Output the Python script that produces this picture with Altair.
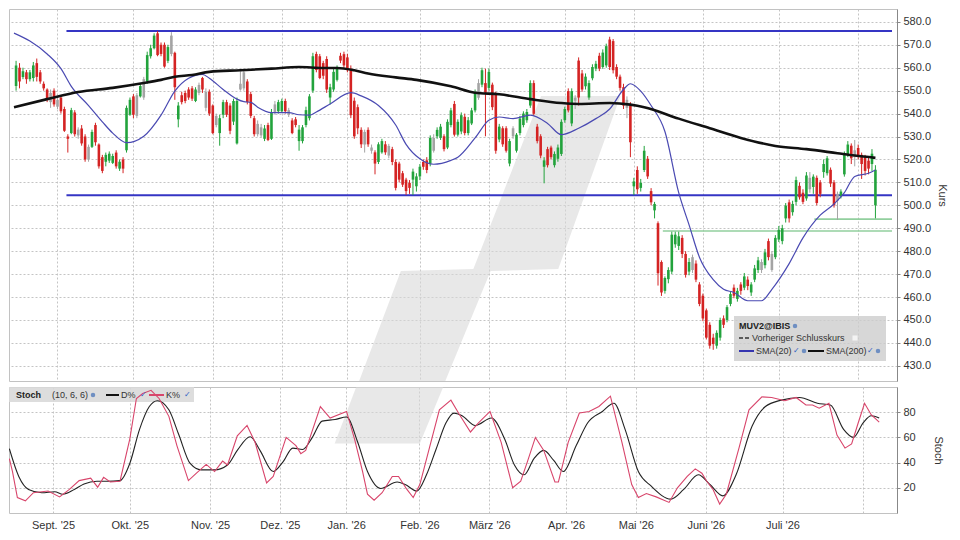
import json
import altair as alt
import pandas as pd

FONT = "Liberation Sans"

# ---------------- candle data (trading day index 0..249) ----------------
O = [552, 560, 556, 558, 555, 555.5, 562, 558, 553, 550.5,
     545, 550, 543, 547, 542, 530, 531.5, 540.5, 530.5, 533.5,
     530, 520, 525.5, 535, 526.5, 521, 519, 519.5, 518.5, 523,
     516, 520, 524, 539.5, 547.5, 539, 547.5, 547, 554, 565,
     568.5, 575, 570, 570, 563, 566, 566.5, 537.5, 548, 549,
     550.5, 551, 545.5, 549, 555.5, 549.5, 549.5, 543.5, 535, 531.5,
     539.5, 545, 543.5, 536.5, 527, 550.5, 551, 554, 548.5, 538,
     535.5, 530.5, 529, 535, 529, 540.5, 541, 541, 545.5, 539.5,
     537, 537.5, 528, 528, 535, 538, 550, 566, 565, 562,
     563.8, 547, 550.5, 554.7, 565.2, 565.9, 564.5, 559.6, 545.6, 542.8,
     532.9, 526.5, 532.9, 523.8, 523.1, 518.9, 523.1, 526.6, 521.7, 524.5,
     518.9, 518.2, 514, 511.2, 509.8, 511.2, 508.3, 512.6, 518.9, 519.6,
     518.2, 523.8, 530.1, 529.4, 530.1, 525.2, 535, 544.2, 530.8, 532.2,
     538.6, 531.5, 535.7, 541.4, 546.9, 552.6, 553.3, 551.2, 552.6, 548.4,
     528.7, 533.6, 533.6, 518.2, 530.1, 523.8, 531.5, 535, 537.1, 543.5,
     553.3, 534.3, 530.1, 516.8, 524.5, 525.2, 517.5, 520.3, 522.4, 537.1,
     549.8, 535.7, 545.6, 563.1, 557.5, 551.9, 547, 555.4, 559.6, 565.2,
     560.3, 561, 572.3, 571.6, 560.3, 556.1, 551.5, 542.5, 543.5, 508.3,
     515.4, 507.6, 515.4, 520.3, 506.2, 497.8, 492.2, 475.3, 462.7, 467.8,
     471.1, 483, 482.3, 485.8, 478.8, 471.1, 471.8, 474.6, 465.5, 460.6,
     454.2, 447.9, 442.3, 438.8, 442.3, 450.7, 450, 457, 464.1, 459.2,
     465.5, 464.1, 467.6, 462, 467.6, 471.8, 475.3, 473.9, 484.4, 471.8,
     477.4, 485.1, 484.4, 494.3, 501.3, 497, 501.5, 508.5, 505.5, 503,
     507, 508, 512, 510, 514.5, 514, 515.5, 510, 502, 504,
     513.5, 522, 526, 521, 525, 522, 521, 519.5, 518, 500]
H = [563, 562, 560, 559, 559, 562.5, 564, 559, 554, 551,
     550.5, 551, 547, 548, 543, 531, 542.5, 541.5, 534, 535,
     531, 526.5, 533, 536, 527, 522, 523, 523.5, 522.5, 524,
     520, 521, 543.5, 547, 548.5, 549, 553, 556, 567, 570,
     575, 576, 571, 571, 570, 575.5, 567, 545, 549.5, 550,
     551.5, 552, 551.5, 553.5, 556, 551, 550.5, 544, 540, 539.5,
     546, 546, 544.5, 546.5, 547, 558.5, 559.5, 555, 549.5, 539,
     537, 535.5, 535, 536, 542, 545.5, 546, 546.5, 546.5, 542.5,
     538, 538.5, 535, 535, 543, 548.5, 566.5, 567, 566, 563,
     565, 553, 559.5, 561, 566.5, 567, 566, 561, 547, 544,
     534, 533, 534, 526.5, 524, 527.5, 529, 528, 526.8, 525.5,
     520, 519, 515, 512, 511, 516, 514, 518, 520, 521,
     530.5, 531, 534, 535.5, 531, 537.5, 542.5, 545.5, 537.5, 540.5,
     540, 538.5, 542.5, 550.5, 555, 560, 559.6, 559.6, 553.5, 549.5,
     535.5, 534.5, 534.5, 529, 534.5, 531.5, 539, 541, 542, 554.5,
     554.5, 535.5, 531, 521, 525.5, 526, 523.5, 526.5, 537.5, 543,
     551, 551, 548, 564.5, 559, 557.5, 554.5, 561.5, 563, 566.5,
     568, 570.5, 573.5, 572.5, 561.5, 557, 553, 547.5, 545, 512,
     517, 511.5, 525.9, 521.5, 507.5, 501.5, 493, 476, 469, 473,
     488.5, 488.5, 488.5, 487, 480, 477, 478.5, 476, 466.5, 461.5,
     455, 449, 444, 445.5, 451, 452, 456.5, 462.5, 465.5, 464,
     466.5, 470.5, 469, 466.5, 474, 477.5, 476.5, 481, 485.5, 480,
     487, 491, 491.5, 501, 502.5, 502, 512.5, 510, 507, 514.5,
     514.5, 513.5, 513, 511, 520, 521.5, 516.5, 511, 506, 507,
     523.5, 528, 527, 528.5, 526.5, 523, 522, 521, 524.5, 517.5]
L = [550, 551, 555, 553, 554, 554, 554, 553, 550, 545,
     542.5, 543, 542, 540, 532, 523, 531, 530, 529, 526,
     519, 519, 525, 526, 516, 514, 517, 518.5, 518, 516,
     515, 514, 523, 539, 538, 538, 547, 546, 553, 564,
     568, 565, 565, 560, 562, 565, 546, 534, 544, 544.5,
     546, 545.5, 545, 548, 549, 541, 539, 531, 534, 526,
     538, 538.5, 531, 535, 526.5, 550, 550, 544, 538, 530,
     530, 529.5, 528, 528, 528.5, 539.5, 540, 540.5, 540, 538.5,
     531, 534, 523.8, 527, 534, 537, 549, 558, 555, 555,
     549, 544, 549.5, 554, 562, 560, 558, 538, 529, 531,
     525, 523, 525.5, 522.5, 513.5, 518, 522.5, 522, 520.5, 517.5,
     506.5, 510, 508, 504.5, 505, 504.5, 506, 511, 515.5, 514,
     517, 523, 529, 528.5, 523.5, 524.5, 534, 530, 530, 531,
     530.5, 530.5, 535, 540.5, 546, 551.5, 530.1, 550, 541.5, 522.5,
     527.5, 525.5, 523, 517, 529, 523, 530.5, 534, 536, 542.5,
     539, 527, 520.5, 509.6, 516.5, 520, 516.5, 519, 521.5, 536,
     540.5, 534.5, 542, 543.5, 549.5, 550.5, 546, 554.5, 558.5, 558.5,
     559.5, 560, 559, 557.5, 555, 550, 542, 538, 521, 504.5,
     505, 506, 514.5, 511.5, 500, 494.3, 465, 460.5, 461.5, 466,
     470, 481.5, 480.5, 477, 468.5, 469.5, 470.5, 466.5, 456, 449.5,
     441.5, 437.5, 437, 437.5, 441, 446.5, 449, 456, 459.5, 458,
     461, 463, 463, 460.5, 466.5, 470.5, 470.5, 472.5, 476, 471,
     476.5, 484, 483, 492.5, 492.5, 495.5, 500, 502.5, 500.5, 502,
     505.5, 505, 500, 503.5, 512, 513, 508, 499, 493.6, 503,
     512.5, 521, 518, 517, 520, 511.5, 513, 513.5, 515, 494.3]
C = [561, 554, 558.5, 555, 558, 561, 556, 554, 551, 546,
     549, 544, 546, 541, 532.5, 529, 541.5, 531, 533, 527,
     520, 525.5, 532, 527.5, 517, 515, 522, 522.5, 521.5, 517,
     519, 516, 542.5, 546, 539.5, 548, 552, 555, 565.5, 568.5,
     574, 565.5, 566, 560.5, 569, 574, 551.5, 543.5, 545, 545.5,
     547, 546.5, 550.5, 552.5, 550.5, 542.5, 540, 531.5, 539, 538,
     545, 539.5, 532.5, 545.5, 545.5, 553, 558, 545, 539, 531,
     531, 534, 533.5, 528.5, 540.5, 544, 545, 545.5, 541, 541.5,
     531.5, 535, 533, 534, 541.5, 547.5, 565, 559, 555.5, 556.5,
     550.5, 551.5, 558.2, 559.6, 563.1, 561, 558.9, 539.3, 530.1, 533.6,
     526.6, 532, 526.6, 525.2, 518.2, 526.6, 528, 523.1, 525.9, 518.9,
     507.6, 511.2, 509, 506.2, 507.6, 514.7, 512.6, 516.8, 516.8, 515.4,
     529.4, 529.4, 532.9, 534.3, 524.5, 536.4, 541.4, 530.8, 536.4, 539.3,
     531.5, 537.1, 541.4, 549.1, 553.3, 558.9, 549.1, 558.2, 542.8, 523.8,
     534.3, 526.6, 523.8, 528, 533.6, 530.8, 537.8, 540, 540.7, 553.3,
     539.9, 528, 521.7, 519.6, 517.5, 521, 522.4, 525.2, 536.4, 542,
     541.4, 549.8, 546.9, 547, 550.5, 556.1, 553.3, 560.3, 561.7, 559.6,
     566.6, 569.4, 560.3, 558.9, 556.1, 551.2, 543.5, 546, 527.5, 510.4,
     507, 509.8, 523.8, 512.6, 501.3, 500.6, 470.4, 462, 468.3, 471.8,
     487.2, 487.2, 486.5, 478.8, 469.7, 475.3, 477.4, 467.6, 457, 450.7,
     442.3, 438.8, 439.5, 444.4, 450, 447.9, 455.6, 461.3, 460.6, 462.7,
     462.7, 469, 464.8, 465.5, 472.5, 476, 471.8, 479.5, 477.4, 478.8,
     485.8, 489.3, 490, 499.9, 494.3, 500.6, 511, 503.5, 501.5, 513,
     512, 512.5, 501, 505, 518, 520.5, 509.5, 500, 505, 506,
     522.5, 526.5, 520.5, 524, 521.5, 518, 515, 516, 522.5, 515.5]
COL = list("grgrggrrrr" "nrnrrrgrnr" "rngrrrgggr" "grggrngngg" "grrrgnrgrr"
           "rrgnrnrrng" "grrggnnrrr" "nngrgnggrn" "rrgggggrrr" "rgggrrrrrr"
           "rnrnrggrnr" "rrrrrgggrr" "gnggrggrgg" "rgggngrgrr" "grrgnggggg"
           "rrrgrrgggg" "rgnrrggggr" "ggrrrrrnrg" "rggrrgrrgg" "gggrrgnrrr"
           "rrrggrggrg" "rgrgggngrn" "ggggrggrrg" "ngrrggrrng" "ggrnrrrrgg")

# ---------------- moving averages (read at sample points) ----------------
sma20_i = [-0.6, 4, 9, 13, 16, 21, 25, 28, 32, 37, 42, 46, 50, 54, 56, 60, 64, 66, 68, 70,
           74, 79, 82, 85, 87, 91, 97, 100, 105, 110, 113, 117, 121, 126, 128, 133, 137, 140,
           144, 149, 154, 158, 163, 168, 172, 176, 178, 181, 184, 188, 192, 195, 198, 202,
           205, 208, 212, 216, 219, 224, 228, 233, 237, 240, 243, 247, 249]
sma20_v = [575.1, 571.6, 566, 559.6, 551.9, 543.5, 536.4, 531.5, 527.3, 530.1, 539.3, 549.8,
           555.4, 557.1, 555.4, 550.5, 546.3, 545.2, 544.9, 542.8, 540.4, 540.4, 539.5, 539.3,
           540.7, 544.2, 549.1, 547.7, 543.5, 535, 526.6, 520.3, 517.9, 519.6, 521, 529.4,
           537.1, 538.5, 537.8, 539.3, 535.7, 530.8, 533.6, 537.8, 542, 550.5, 553, 549.8,
           543.5, 532.2, 505.5, 491.5, 477.4, 467.6, 463.4, 462, 458.4, 458.4, 463.4, 474.6,
           485.8, 495.7, 500.6, 505.5, 512.6, 514, 515.4]
sma200_i = [-0.6, 9, 18, 28, 37, 42, 46, 51, 56, 65, 74, 82, 89, 93, 98, 102, 110, 116, 126,
            133, 140, 149, 158, 163, 172, 178, 182, 192, 201, 210, 220, 229, 238, 243, 249]
sma200_v = [542.8, 546.3, 549.4, 551.2, 553.3, 554.7, 556.1, 556.8, 558.2, 558.9, 559.6,
            560.3, 559.9, 559.9, 558.9, 557.5, 555.8, 554.7, 551.9, 549.1, 548.4, 546.3,
            544.6, 544.2, 544.6, 543.9, 542.8, 537.8, 533.6, 529.4, 525.9, 524.5, 522.7,
            521.7, 520.7]

# ---------------- stochastic (10, 6, 6) ----------------
k_i = [-0.5, 0.4, 1.8, 4.1, 6.4, 8.8, 10.6, 13.9, 16.7, 19.5, 22.8, 24.8, 26.5, 28.4, 31.2,
       34, 35.9, 37.7, 40.1, 42.4, 45.2, 47.5, 50.8, 53.1, 55.9, 58.3, 60.6, 62, 64.8, 67.6,
       69.9, 73.2, 75.1, 78.8, 81.6, 83, 84.4, 88.6, 91.4, 96.1, 98.4, 100.7, 102.1, 104,
       106.3, 109.2, 111, 113.4, 115.2, 117.1, 119.9, 122.7, 126, 128.3, 131.6, 133.9, 137.2,
       140.4, 143.7, 146, 147.9, 150.2, 152.6, 155.8, 156.8, 159.6, 162.8, 165.6, 168.4,
       171.7, 175, 177.8, 179.7, 182, 184.8, 188.5, 190.9, 193.7, 196, 197.9, 199.3, 201.1,
       203, 204.9, 208.6, 211.4, 215.1, 217.9, 221.7, 224.9, 227.7, 229.6, 231.5, 234.3,
       236.6, 238.9, 240.8, 242.7, 244.5, 246.4, 248.7]
k_v = [43.2, 32.9, 12.3, 9.7, 16.1, 16.9, 17.4, 12.8, 18.7, 25.7, 27.7, 20.5, 28.3, 24.6,
       25.2, 58.7, 90.9, 94.8, 97.4, 90.9, 76.7, 53.5, 25.7, 31.6, 38.6, 32.9, 41.2, 38.1,
       61.2, 69.5, 56.1, 23.9, 29, 60, 53.5, 47.1, 49.7, 84.5, 75.4, 80.6, 58.7, 32.9, 14.9,
       10.2, 16.1, 29, 29, 18.7, 12.3, 22.6, 52.2, 81.9, 89.6, 78.8, 64.3, 71.6, 80.6, 56.1,
       20, 25.2, 40.6, 60, 49.7, 24.6, 24.6, 56.1, 79.3, 80.6, 84.5, 92.7, 56.1, 22.6, 12.3,
       15.4, 12.8, 8.4, 20, 29, 35, 31.6, 25.2, 18.7, 7.1, 14.9, 52.2, 81.9, 92.2, 91.7,
       89.1, 91.7, 85.7, 85.7, 83.2, 87.1, 61.8, 51.5, 54.8, 71.6, 87.1, 78, 72.1]
d_i = [-0.5, 2.2, 5, 8.8, 12.5, 14.8, 18.1, 20.9, 24.6, 27.5, 31.2, 34, 36.8, 39.6, 41.9,
       45.2, 48, 51.3, 54.5, 58.3, 62, 64.8, 68.5, 71.3, 75.1, 77.9, 80.7, 83.5, 86.3, 89.1,
       92.8, 96.1, 99.3, 102.1, 105.9, 110.6, 112.9, 116.2, 119, 121.8, 124.6, 126.9, 129.2,
       133, 137.6, 141.4, 144.2, 147, 149.8, 152.6, 155.4, 158.2, 161.9, 165.2, 169.4,
       172.7, 175.9, 179.7, 183.4, 189, 192.7, 196.9, 200.2, 203.9, 207.7, 212.3, 216.1,
       220.7, 225.9, 231, 234.7, 238.5, 241.3, 244.1, 246.4, 248.7]
d_v = [51, 29, 18.7, 16.1, 16.9, 14.9, 18.7, 23.1, 25.2, 25.2, 25.7, 39.3, 66.4, 84.5, 89.1,
       81.9, 62.5, 39.3, 34.2, 34.2, 38.1, 49.7, 60.5, 49.7, 32.9, 40.6, 51.5, 50.4, 60,
       72.9, 74.2, 76.2, 56.1, 32.9, 19.5, 24.6, 22.6, 17.4, 30.3, 51, 71.6, 79.3, 77.2,
       69.5, 75.4, 58.7, 38.1, 30.3, 43.2, 49.7, 41.9, 32.9, 53.5, 71.6, 80.6, 87.1, 66.4,
       32.9, 21.3, 11, 18.7, 30.3, 22.6, 13.6, 30.3, 69, 84.5, 89.6, 91.7, 87.1, 85.7,
       66.4, 60, 71.6, 77.2, 75.4]

# ---------------- horizontal levels ----------------
blue_p = [576.0, 504.4]
blue_from = [14.6, 14.6]
green_p = [494.0, 488.8]
green_from = [231.3, 187.4]

# ---------------- axis ticks ----------------
month_idx = [12, 34, 57, 77, 96, 117, 137, 159, 179, 199, 221, 244]
month_lbl = ["Sept. '25", "Okt. '25", "Nov. '25", "Dez. '25", "Jan. '26", "Feb. '26",
             "März '26", "Apr. '26", "Mai '26", "Juni '26", "Juli '26", ""]
price_ticks = [430, 440, 450, 460, 470, 480, 490, 500, 510, 520, 530, 540, 550, 560, 570, 580]
stoch_ticks = [20, 40, 60, 80]

# watermark logo outline (index / value units)
wm_p = [396.8, 471.4, 472.2, 547.7]
wm_x1 = [92.7, 111.5, 132.5, 152.1]
wm_x2 = [117.1, 137.5, 157.1, 175.1]
wm_s = [55.1, 192.0]
wm_sx1 = [92.7, 111.5]
wm_sx2 = [117.1, 137.5]

X_END = 253.8
W, TH, BH = 888, 372, 126

cdf = pd.DataFrame({"i": list(range(len(C))), "o": O, "h": H, "l": L, "c": C, "col": COL})
s20 = pd.DataFrame({"i": sma20_i, "v": sma20_v})
s200 = pd.DataFrame({"i": sma200_i, "v": sma200_v})
kdf = pd.DataFrame({"i": k_i, "v": k_v})
ddf = pd.DataFrame({"i": d_i, "v": d_v})
hl_blue = pd.DataFrame({"p": blue_p, "x1": blue_from, "x2": [X_END] * len(blue_p)})
hl_green = pd.DataFrame({"p": green_p, "x1": green_from, "x2": [X_END] * len(green_p)})
wm_top_df = pd.DataFrame({"p": wm_p, "x1": wm_x1, "x2": wm_x2})
wm_bot_df = pd.DataFrame({"p": wm_s, "x1": wm_sx1, "x2": wm_sx2})
dummy = pd.DataFrame({"k": [0]})

xs = alt.Scale(domain=[-0.6, X_END], nice=False, zero=False)
ys = alt.Scale(domain=[423.4, 585.6], nice=False, zero=False)
ss = alt.Scale(domain=[0, 100], nice=False, zero=False)

GRID = "#c4c4c4"
x_top_axis = alt.Axis(values=month_idx, labels=False, ticks=False, domain=False, grid=True,
                      gridDash=[2, 2], gridColor=GRID, title=None)
parts = [f"datum.value == {t} ? {json.dumps(l, ensure_ascii=False)}" for t, l in zip(month_idx, month_lbl)]
label_expr = " : ".join(parts) + ' : ""'
x_bot_axis = alt.Axis(values=month_idx, labelExpr=label_expr, ticks=False, domain=False, grid=True,
                      gridDash=[2, 2], gridColor=GRID, title=None, labelOverlap=False,
                      labelFontSize=11, labelColor="#333", labelPadding=6, labelFont=FONT)
y_top_axis = alt.Axis(orient="right", values=price_ticks, format=".1f", grid=True, gridDash=[2, 2],
                      gridColor=GRID, title="Kurs", labelFontSize=11, labelColor="#333",
                      domainColor="#888", tickColor="#888", tickSize=3, titleFontSize=11,
                      titleFontWeight="normal", titleColor="#333", labelPadding=3, titlePadding=6,
                      labelFont=FONT, titleFont=FONT)
y_bot_axis = alt.Axis(orient="right", values=stoch_ticks, grid=True, gridDash=[2, 2],
                      gridColor=GRID, title="Stoch", labelFontSize=11, labelColor="#333",
                      domainColor="#888", tickColor="#888", tickSize=3, titleFontSize=11,
                      titleFontWeight="normal", titleColor="#333", labelPadding=3, titlePadding=17,
                      labelFont=FONT, titleFont=FONT)


def XT(f):
    return alt.X(f, type="quantitative", scale=xs, axis=x_top_axis)


def YT(f):
    return alt.Y(f, type="quantitative", scale=ys, axis=y_top_axis)


def XB(f):
    return alt.X(f, type="quantitative", scale=xs, axis=x_bot_axis)


def YB(f):
    return alt.Y(f, type="quantitative", scale=ss, axis=y_bot_axis)


def txt(x, y, s, size=9, weight="normal", color="#333"):
    return alt.Chart(dummy).mark_text(text=s, align="left", baseline="middle", fontSize=size,
                                      fontWeight=weight, color=color, font=FONT).encode(
        x=alt.value(x), y=alt.value(y))


def seg(x1, x2, y, color, width=2, dash=None):
    kw = {"color": color, "strokeWidth": width}
    if dash:
        kw["strokeDash"] = dash
    return alt.Chart(dummy).mark_rule(**kw).encode(x=alt.value(x1), x2=alt.value(x2), y=alt.value(y))


def globe(x, y):
    return alt.Chart(dummy).mark_point(filled=True, size=20, color="#6f8fc2", opacity=1).encode(
        x=alt.value(x), y=alt.value(y))


def box(x1, x2, y1, y2, color, op):
    return alt.Chart(dummy).mark_rect(color=color, opacity=op).encode(
        x=alt.value(x1), x2=alt.value(x2), y=alt.value(y1), y2=alt.value(y2))


candle_color = alt.Color("col:N", scale=alt.Scale(domain=["g", "r", "n"],
                                                  range=["#22a33c", "#d42323", "#a4a4a4"]),
                         legend=None)

wm_top = alt.Chart(wm_top_df).mark_area(orient="horizontal", color="#d9d9d9", opacity=0.6,
                                        clip=True).encode(y=YT("p"), x=XT("x1"), x2="x2")
blue_lines = alt.Chart(hl_blue).mark_rule(color="#3535c4", strokeWidth=2.2, clip=True).encode(
    x=XT("x1"), x2="x2", y=YT("p"))
green_lines = alt.Chart(hl_green).mark_rule(color="#92cf9e", strokeWidth=1.6, clip=True).encode(
    x=XT("x1"), x2="x2", y=YT("p"))
wicks = alt.Chart(cdf).mark_rule(strokeWidth=1, clip=True).encode(
    x=XT("i"), y=YT("l"), y2="h", color=candle_color)
bodies = alt.Chart(cdf).mark_bar(size=2.6, clip=True).encode(
    x=XT("i"), y=YT("o"), y2="c", color=candle_color)
sma20 = alt.Chart(s20).mark_line(color="#4a4ab2", strokeWidth=1.2, interpolate="monotone",
                                 clip=True).encode(x=XT("i"), y=YT("v"))
sma200 = alt.Chart(s200).mark_line(color="#111111", strokeWidth=2.6, interpolate="monotone",
                                   clip=True).encode(x=XT("i"), y=YT("v"))

# price legend (top panel)
leg_top = [
    box(725, 877, 307, 352, "#cdcdcd", 0.8),
    txt(730, 317, "MUV2@IBIS", 9, "bold", "#222"),
    globe(786, 317),
    seg(730, 740, 329, "#333", 1.5, [4, 2]),
    txt(743, 329, "Vorheriger Schlusskurs", 9, "normal", "#333"),
    alt.Chart(dummy).mark_square(filled=True, size=26, color="#ffffff").encode(
        x=alt.value(846), y=alt.value(329)),
    seg(730, 745, 342, "#3535b0", 2),
    txt(747, 342, "SMA(20)", 9, "normal", "#333"),
    txt(784, 342, "✓", 8, "normal", "#2f62c4"),
    globe(795, 342),
    seg(799, 815, 342, "#111", 2),
    txt(817, 342, "SMA(200)", 9, "normal", "#333"),
    txt(858, 342, "✓", 8, "normal", "#2f62c4"),
    globe(869, 342),
]

top = alt.layer(wm_top, blue_lines, green_lines, wicks, bodies, sma20, sma200, *leg_top).properties(
    width=W, height=TH)

# stochastic panel
wm_bot = alt.Chart(wm_bot_df).mark_area(orient="horizontal", color="#d9d9d9", opacity=0.6,
                                        clip=True).encode(y=YB("p"), x=XB("x1"), x2="x2")
leg_bot_box = box(0, 185, 0, 15, "#d9d9d9", 0.9)
d_line = alt.Chart(ddf).mark_line(color="#222222", strokeWidth=1.1, interpolate="monotone",
                                  clip=True).encode(x=XB("i"), y=YB("v"))
k_line = alt.Chart(kdf).mark_line(color="#d8456b", strokeWidth=1.1, clip=True).encode(
    x=XB("i"), y=YB("v"))
leg_bot = [
    txt(7, 8, "Stoch", 9, "bold", "#222"),
    txt(43, 8, "(10, 6, 6)", 9, "normal", "#333"),
    globe(84, 8),
    seg(97, 110, 8, "#111", 2),
    txt(112, 8, "D%", 9, "normal", "#333"),
    txt(131, 8, "✓", 8, "normal", "#2f62c4"),
    seg(140, 155, 8, "#d8456b", 2),
    txt(157, 8, "K%", 9, "normal", "#333"),
    txt(175, 8, "✓", 8, "normal", "#2f62c4"),
]
bot = alt.layer(wm_bot, leg_bot_box, d_line, k_line, *leg_bot).properties(width=W, height=BH)

chart = alt.vconcat(top, bot, spacing=4).properties(
    padding={"left": 0, "top": 0, "right": 2, "bottom": 0}
).configure_view(stroke="#c2c2c2", strokeWidth=1).configure_axis(labelFont=FONT, titleFont=FONT)

chart.save("out.html", embed_options={"renderer": "svg", "actions": False})
